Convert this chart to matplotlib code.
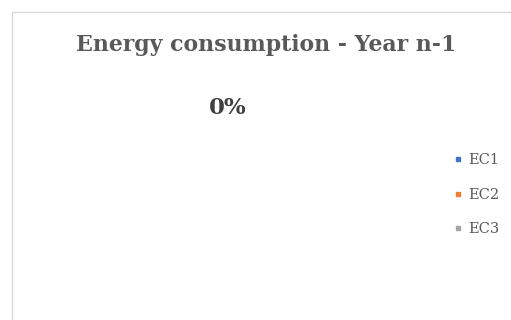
import matplotlib.pyplot as plt
from matplotlib.lines import Line2D
from matplotlib.patches import Rectangle

TITLE = "Energy consumption - Year n-1"
labels = ["EC1", "EC2", "EC3"]
values = [0, 0, 0]
colors = ["#4472C4", "#ED7D31", "#A5A5A5"]
TEXT_COLOR = "#595959"

plt.rcParams["font.family"] = ["DejaVu Serif"]

fig = plt.figure(figsize=(5.11, 3.2), dpi=100)
W, H = 511, 320

# chart border (only left and top visible in the crop)
fig.patches.append(Rectangle((12 / W, -0.1), 1.2, (H - 12) / H + 0.1,
                             transform=fig.transFigure, fill=False,
                             edgecolor="#D9D9D9", linewidth=1.0))

fig.text(266 / W, 1 - 45 / H, TITLE, ha="center", va="center",
         fontsize=15.8, fontweight="bold", color=TEXT_COLOR)

ax = fig.add_axes([0.1, 0.05, 0.7, 0.75])
ax.set_aspect("equal")
ax.axis("off")
total = sum(values)
if total > 0:
    ax.pie(values, colors=colors, autopct="%1.0f%%")
else:
    # empty pie: only the data label is shown
    pct = 0
    fig.text(228 / W, 1 - 108 / H, f"{pct:.0f}%", ha="center", va="center",
             fontsize=16.5, fontweight="bold", color="#404040")

handles = [Line2D([], [], linestyle="", marker="s", markersize=3.5,
                  markerfacecolor=c, markeredgecolor=c) for c in colors]
leg = fig.legend(handles, labels, loc="upper left",
                 bbox_to_anchor=(446 / W, 1 - 146 / H), frameon=False,
                 fontsize=10.5, labelcolor=TEXT_COLOR, handlelength=0.6,
                 handletextpad=0.4, labelspacing=1.4, borderpad=0)

fig.savefig("out.png", dpi=100)
